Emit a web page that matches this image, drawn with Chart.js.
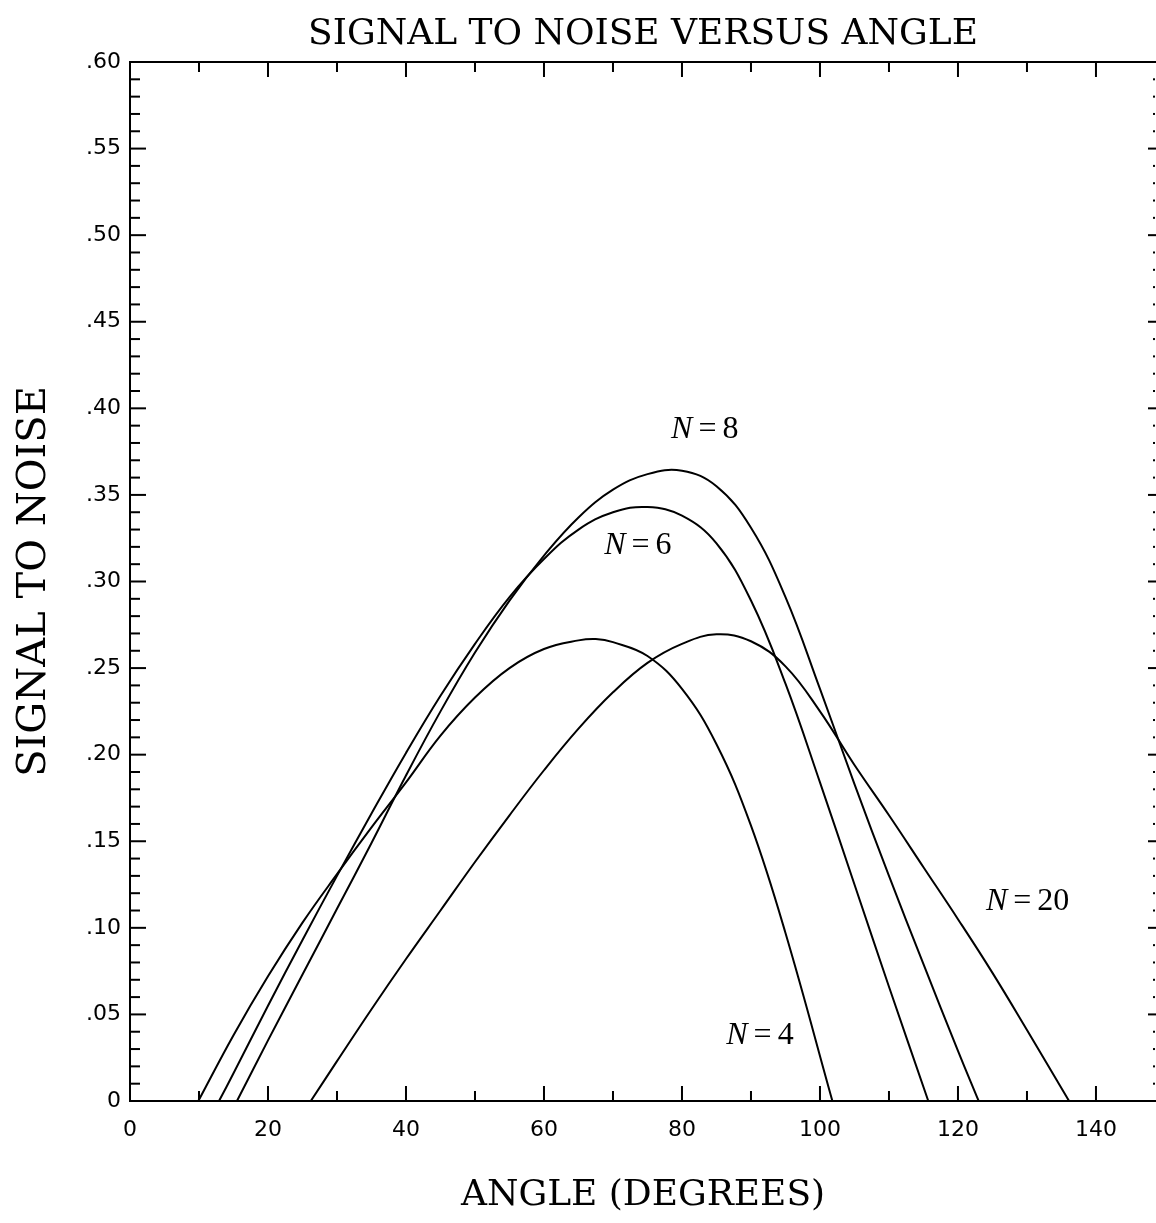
<!DOCTYPE html>
<html>
<head>
<meta charset="utf-8">
<title>Signal to noise versus angle</title>
<script src="https://cdn.jsdelivr.net/npm/chart.js@4.4.0/dist/chart.umd.min.js"></script>
<style>
  html, body { margin: 0; padding: 0; background: #fff; overflow: hidden; }
</style>
</head>
<body>
<canvas id="snrChart" width="1156" height="1223"></canvas>
<script>
// values: angle (degrees) -> signal to noise
const n4Angles = [9.9, 15, 20, 25, 30, 35, 40, 45, 50, 55, 60, 65, 67.5, 70, 75, 80, 85, 90, 95, 101.8];
const n4Values = [0, 0.038, 0.072, 0.103, 0.131, 0.158, 0.184, 0.211, 0.233, 0.250, 0.261, 0.266, 0.2668, 0.265, 0.257, 0.238, 0.206, 0.159, 0.097, 0];

const n6Angles = [12.9, 15, 20, 25, 30, 35, 40, 45, 50, 55, 60, 65, 70, 75, 80, 85, 90, 95, 100, 105, 110, 115.7];
const n6Values = [0, 0.016, 0.055, 0.093, 0.130, 0.166, 0.201, 0.234, 0.264, 0.291, 0.313, 0.330, 0.340, 0.343, 0.338, 0.322, 0.289, 0.241, 0.184, 0.125, 0.066, 0];

const n8Angles = [15.5, 20, 25, 30, 35, 40, 45, 50, 55, 60, 65, 70, 75, 80, 85, 90, 95, 100, 105, 110, 115, 120, 123];
const n8Values = [0, 0.035, 0.073, 0.111, 0.149, 0.188, 0.225, 0.259, 0.289, 0.315, 0.337, 0.353, 0.362, 0.364, 0.355, 0.331, 0.291, 0.238, 0.183, 0.130, 0.079, 0.029, 0];

const n20Angles = [26.2, 30, 35, 40, 45, 50, 55, 60, 65, 70, 75, 80, 85, 90, 95, 100, 105, 110, 115, 120, 125, 130, 136.1];
const n20Values = [0, 0.023, 0.053, 0.082, 0.110, 0.138, 0.165, 0.191, 0.215, 0.236, 0.253, 0.264, 0.2695, 0.2655, 0.251, 0.225, 0.194, 0.165, 0.135, 0.105, 0.074, 0.041, 0];

const xTickLabels = ['0', '20', '40', '60', '80', '100', '120', '140'];
const yTickLabels = ['0', '.05', '.10', '.15', '.20', '.25', '.30', '.35', '.40', '.45', '.50', '.55', '.60'];

// curve names and where they sit (data coordinates)
const curveNames = ['8', '6', '4', '20'];
const curveNameAt = [[83.3, 0.3875], [73.6, 0.3205], [91.3, 0.0375], [130.1, 0.1149]];

function toPoints(xs, ys) {
    return xs.map((x, i) => ({ x: x, y: ys[i] }));
}

function curve(label, xs, ys) {
    return {
        label: label,
        data: toPoints(xs, ys),
        borderColor: '#000',
        borderWidth: 2,
        pointRadius: 0,
        fill: false,
        tension: 0.4
    };
}

// frame: top line, dotted right side, inward tick marks, and the N = .. notes
const frameTicks = {
    id: 'frameTicks',
    afterDatasetsDraw(chart) {
        const ctx = chart.ctx;
        const a = chart.chartArea;
        const xs = chart.scales.x;
        const ys = chart.scales.y;
        ctx.save();
        ctx.strokeStyle = '#000';
        ctx.fillStyle = '#000';
        ctx.lineWidth = 2;

        ctx.beginPath();
        ctx.moveTo(a.left, a.top);
        ctx.lineTo(a.right, a.top);
        ctx.stroke();

        for (let i = 1; i < 60; i++) {
            const py = ys.getPixelForValue(i / 100);
            const len = i % 5 === 0 ? 16 : 10;
            ctx.beginPath();
            ctx.moveTo(a.left, py);
            ctx.lineTo(a.left + len, py);
            ctx.stroke();
            if (i % 5 === 0) {
                ctx.fillRect(a.right - 8, py - 1, 8, 2);
            } else {
                ctx.fillRect(a.right - 3, py - 1, 2, 2);
            }
        }

        for (let d = 10; d <= 140; d += 10) {
            const px = xs.getPixelForValue(d);
            const len = d % 20 === 0 ? 15 : 10;
            ctx.beginPath();
            ctx.moveTo(px, a.top);
            ctx.lineTo(px, a.top + len);
            ctx.moveTo(px, a.bottom);
            ctx.lineTo(px, a.bottom - len);
            ctx.stroke();
        }

        ctx.textBaseline = 'middle';
        ctx.textAlign = 'left';
        curveNames.forEach((n, i) => {
            const cx = xs.getPixelForValue(curveNameAt[i][0]);
            const cy = ys.getPixelForValue(curveNameAt[i][1]);
            ctx.font = 'italic 32px "Liberation Serif"';
            const wN = ctx.measureText('N').width;
            ctx.font = '32px "Liberation Serif"';
            const wEq = ctx.measureText('=').width;
            const wNum = ctx.measureText(n).width;
            const gap = 6;
            let px = cx - (wN + wEq + wNum + 2 * gap) / 2;
            ctx.font = 'italic 32px "Liberation Serif"';
            ctx.fillText('N', px, cy);
            px += wN + gap;
            ctx.font = '32px "Liberation Serif"';
            ctx.fillText('=', px, cy);
            px += wEq + gap;
            ctx.fillText(n, px, cy);
        });
        ctx.restore();
    }
};

const tickFont = { family: '"DejaVu Sans"', size: 22 };

new Chart(document.getElementById('snrChart').getContext('2d'), {
    type: 'line',
    data: {
        datasets: [
            curve('N = 4', n4Angles, n4Values),
            curve('N = 6', n6Angles, n6Values),
            curve('N = 8', n8Angles, n8Values),
            curve('N = 20', n20Angles, n20Values)
        ]
    },
    options: {
        responsive: false,
        animation: false,
        devicePixelRatio: 1,
        layout: { padding: 0 },
        plugins: {
            legend: { display: false },
            tooltip: { enabled: false },
            title: {
                display: true,
                fullSize: false,
                text: 'SIGNAL TO NOISE VERSUS ANGLE',
                color: '#000',
                font: { family: '"DejaVu Serif"', size: 36, weight: 'normal' },
                padding: { top: 13.4, bottom: 5.4 }
            }
        },
        scales: {
            x: {
                type: 'linear',
                min: 0,
                max: 148.7,
                border: { display: true, color: '#000', width: 2 },
                grid: { display: false, drawTicks: false },
                ticks: {
                    stepSize: 20,
                    includeBounds: false,
                    autoSkip: false,
                    maxRotation: 0,
                    padding: 16,
                    color: '#000',
                    font: tickFont,
                    callback: (v, i) => xTickLabels[i]
                },
                title: {
                    display: true,
                    text: 'ANGLE (DEGREES)',
                    color: '#000',
                    font: { family: '"DejaVu Serif"', size: 36 },
                    padding: { top: 0, bottom: 5.4 }
                },
                afterFit: s => { s.height = 122; }
            },
            y: {
                type: 'linear',
                min: 0,
                max: 0.6,
                border: { display: true, color: '#000', width: 2 },
                grid: { display: false, drawTicks: false },
                ticks: {
                    stepSize: 0.05,
                    autoSkip: false,
                    padding: 9,
                    color: '#000',
                    font: tickFont,
                    callback: (v, i) => yTickLabels[i]
                },
                title: {
                    display: true,
                    text: 'SIGNAL TO NOISE',
                    color: '#000',
                    font: { family: '"DejaVu Serif"', size: 40 },
                    padding: { top: 11, bottom: 0 }
                },
                afterFit: s => { s.width = 130; }
            }
        }
    },
    plugins: [frameTicks]
});
</script>
</body>
</html>
